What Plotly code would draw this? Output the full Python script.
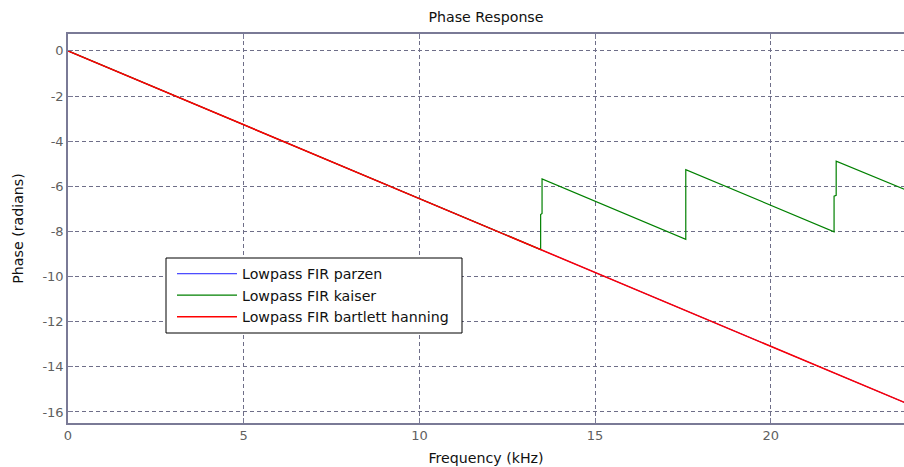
import plotly.graph_objects as go

# Breakpoints of the (piecewise linear) phase curves
freq_linear = [0.0, 24.0]                     # kHz
phase_parzen = [0.0, -15.71]                  # radians
phase_bartlett_hanning = [0.0, -15.71]

freq_kaiser = [0.0, 13.45, 13.45, 13.49, 13.49, 17.58, 17.58, 21.80, 21.80, 21.86, 21.86, 24.0]
phase_kaiser = [0.0, -8.80, -7.25, -7.20, -5.67, -8.35, -5.26, -8.02, -6.44, -6.40, -4.89, -6.26]

x_ticks = [0, 5, 10, 15, 20]
y_ticks = [0, -2, -4, -6, -8, -10, -12, -14, -16]

FONT = "DejaVu Sans, Verdana, sans-serif"
FRAME = "#7a7a96"
GRID = "#6e6e88"
TICKC = "#5f5f5f"

W, H = 904, 467
ML, MR, MT, MB = 68, 0, 34, 44
PW, PH = W - ML - MR, H - MT - MB


def px_x(p):
    return (p - ML) / PW


def px_y(p):
    return (H - MB - p) / PH


fig = go.Figure()
fig.add_trace(go.Scatter(x=freq_linear, y=phase_parzen, mode="lines",
                         name="Lowpass FIR parzen", line=dict(color="#0000ff", width=0.9)))
fig.add_trace(go.Scatter(x=freq_kaiser, y=phase_kaiser, mode="lines",
                         name="Lowpass FIR kaiser", line=dict(color="#008000", width=1.2)))
fig.add_trace(go.Scatter(x=freq_linear, y=phase_bartlett_hanning, mode="lines",
                         name="Lowpass FIR bartlett hanning", line=dict(color="#ff0000", width=1.5)))

# legend box
fig.add_shape(type="rect", xref="paper", yref="paper",
              x0=px_x(166), x1=px_x(462), y0=px_y(333), y1=px_y(258),
              fillcolor="white", line=dict(color="#000000", width=1), layer="above")

fig.update_layout(
    width=W, height=H,
    margin=dict(l=ML, r=MR, t=MT, b=MB),
    paper_bgcolor="white", plot_bgcolor="white",
    font=dict(family=FONT, size=12, color="#111111"),
    title=dict(text="Phase Response", x=0.5, xanchor="center", y=0.963, yanchor="middle",
               xref="paper", yref="container", font=dict(size=14.2, color="#111111")),
    showlegend=True,
    legend=dict(x=px_x(172), y=px_y(258), xanchor="left", yanchor="top",
                bgcolor="rgba(0,0,0,0)", borderwidth=0,
                font=dict(size=14.2, color="#111111"), itemwidth=60,
                tracegroupgap=0),
)
fig.update_xaxes(
    range=[0, 23.79], tickvals=x_ticks, ticktext=[str(v) for v in x_ticks],
    showgrid=True, gridcolor=GRID, griddash="4px,3px", gridwidth=1,
    showline=True, linecolor=FRAME, linewidth=1.5, mirror="ticks",
    ticks="inside", ticklen=5, tickcolor=FRAME,
    zeroline=False, tickfont=dict(size=13, color=TICKC),
    title=dict(text="Frequency (kHz)", font=dict(size=14.2, color="#111111"), standoff=11),
)
fig.update_yaxes(
    range=[-16.49, 0.75], tickvals=y_ticks, ticktext=[str(v) for v in y_ticks],
    showgrid=True, gridcolor=GRID, griddash="4px,3px", gridwidth=1,
    showline=True, linecolor=FRAME, linewidth=1.5, mirror=False,
    ticks="inside", ticklen=5, tickcolor=FRAME,
    zeroline=False, tickfont=dict(size=13, color=TICKC),
    title=dict(text="Phase (radians)", font=dict(size=14.2, color="#111111"), standoff=15),
)

fig.write_html("out.html")
